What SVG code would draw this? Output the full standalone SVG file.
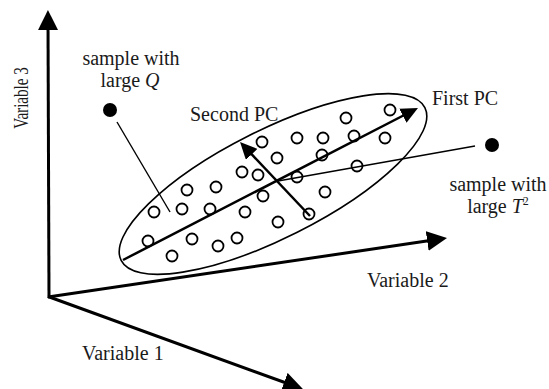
<svg xmlns="http://www.w3.org/2000/svg" width="549" height="389" viewBox="0 0 549 389">
  <style>
    .lbl { font-family: "Liberation Serif", "Times New Roman", serif; font-size: 20px; fill: #1a1a1a; }
    .axis { stroke: #000; stroke-width: 3; fill: none; stroke-linecap: butt; }
    .pc { stroke: #000; stroke-width: 2.5; fill: none; }
    .thin { stroke: #000; stroke-width: 1.4; fill: none; }
    .pt { fill: none; stroke: #000; stroke-width: 1.8; }
    .dot { fill: #000; }
  </style>
  <defs>
    <marker id="ah-axis" markerUnits="userSpaceOnUse" markerWidth="20" markerHeight="20" refX="8" refY="10" orient="auto">
      <path d="M0,0 L20,10 L0,20 z" fill="#000"/>
    </marker>
    <marker id="ah-pc" markerUnits="userSpaceOnUse" markerWidth="17" markerHeight="16" refX="6" refY="8" orient="auto">
      <path d="M0,0 L17,8 L0,16 z" fill="#000"/>
    </marker>
  </defs>
  <rect width="549" height="389" fill="#fff"/>

  <g id="connectors">
    <line class="axis" x1="49" y1="298" x2="48" y2="22" marker-end="url(#ah-axis)"/>
    <line class="axis" x1="48" y1="297" x2="435.1" y2="239.8" marker-end="url(#ah-axis)"/>
    <line class="axis" x1="48" y1="296.5" x2="291.7" y2="385" marker-end="url(#ah-axis)"/>
    <line class="thin" x1="117" y1="122" x2="170" y2="212"/>
    <line class="thin" x1="475" y1="146" x2="278" y2="181"/>
    <line class="pc" x1="123" y1="260" x2="408.2" y2="113" marker-end="url(#ah-pc)"/>
    <line class="pc" x1="310" y1="216" x2="247.6" y2="150" marker-end="url(#ah-pc)"/>
  </g>

  <g id="cluster">
    <ellipse cx="273" cy="184" rx="170" ry="54" transform="rotate(-26.7 273 184)" fill="none" stroke="#000" stroke-width="1.6"/>
    <circle class="pt" cx="390" cy="110" r="5.5"/>
    <circle class="pt" cx="346" cy="118" r="5.5"/>
    <circle class="pt" cx="262" cy="142" r="5.5"/>
    <circle class="pt" cx="297" cy="138" r="5.5"/>
    <circle class="pt" cx="323" cy="138" r="5.5"/>
    <circle class="pt" cx="354" cy="136" r="5.5"/>
    <circle class="pt" cx="385" cy="138" r="5.5"/>
    <circle class="pt" cx="277" cy="158" r="5.5"/>
    <circle class="pt" cx="322" cy="155" r="5.5"/>
    <circle class="pt" cx="258" cy="175" r="5.5"/>
    <circle class="pt" cx="297" cy="177" r="5.5"/>
    <circle class="pt" cx="357" cy="166" r="5.5"/>
    <circle class="pt" cx="242" cy="172" r="5.5"/>
    <circle class="pt" cx="187" cy="190" r="5.5"/>
    <circle class="pt" cx="216" cy="187" r="5.5"/>
    <circle class="pt" cx="263" cy="196" r="5.5"/>
    <circle class="pt" cx="325" cy="192" r="5.5"/>
    <circle class="pt" cx="309" cy="214" r="5.5"/>
    <circle class="pt" cx="278" cy="222" r="5.5"/>
    <circle class="pt" cx="154" cy="212" r="5.5"/>
    <circle class="pt" cx="182" cy="209" r="5.5"/>
    <circle class="pt" cx="210" cy="209" r="5.5"/>
    <circle class="pt" cx="245" cy="212" r="5.5"/>
    <circle class="pt" cx="148" cy="241" r="5.5"/>
    <circle class="pt" cx="192" cy="239" r="5.5"/>
    <circle class="pt" cx="218" cy="246" r="5.5"/>
    <circle class="pt" cx="237" cy="238" r="5.5"/>
    <circle class="pt" cx="172" cy="256" r="5.5"/>
  </g>

  <g id="sample-q">
    <circle class="dot" cx="110" cy="110" r="7"/>
    <text class="lbl" x="131" y="65" text-anchor="middle">sample with</text>
    <text class="lbl" x="130" y="87" text-anchor="middle">large <tspan font-style="italic">Q</tspan></text>
  </g>

  <g id="sample-t2">
    <circle class="dot" cx="492" cy="145" r="7"/>
    <text class="lbl" x="498" y="191" text-anchor="middle">sample with</text>
    <text class="lbl" x="498" y="213" text-anchor="middle">large <tspan font-style="italic">T</tspan><tspan font-size="12" dy="-8">2</tspan></text>
  </g>

  <g id="label-first-pc">
    <text class="lbl" x="432" y="105">First PC</text>
  </g>
  <g id="label-second-pc">
    <text class="lbl" x="190" y="121">Second PC</text>
  </g>
  <g id="label-variable-1">
    <text class="lbl" x="82" y="360">Variable 1</text>
  </g>
  <g id="label-variable-2">
    <text class="lbl" x="367" y="287">Variable 2</text>
  </g>
  <g id="label-variable-3">
    <text class="lbl" font-size="21" style="font-size:21px" transform="translate(27.5 98) rotate(-90) scale(0.72 1)" text-anchor="middle">Variable 3</text>
  </g>
</svg>
